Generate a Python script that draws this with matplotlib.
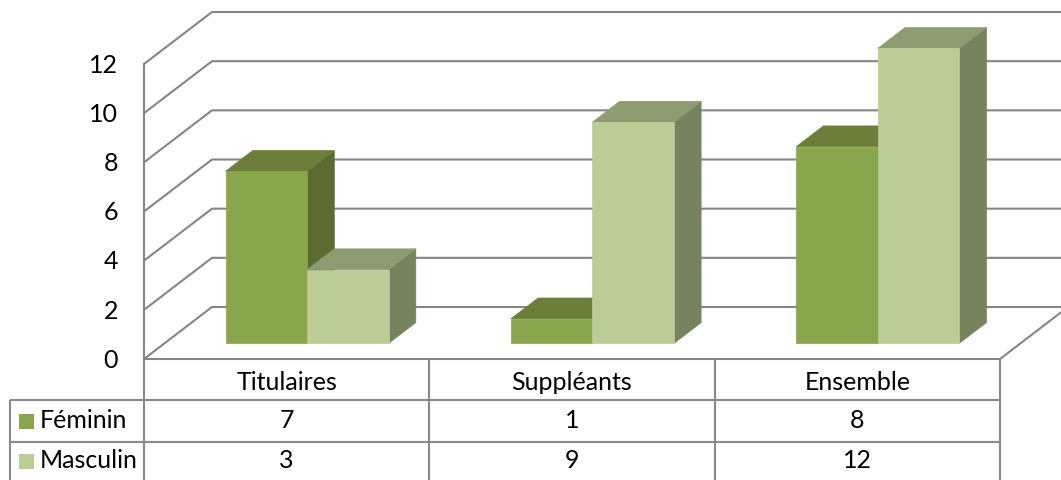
import matplotlib
matplotlib.use("Agg")
import matplotlib.pyplot as plt
from matplotlib.patches import Polygon, Rectangle

# ---- data ----
categories = ["Titulaires", "Suppléants", "Ensemble"]
series_names = ["Féminin", "Masculin"]
feminin = [7, 1, 8]
masculin = [3, 9, 12]
y_ticks = [0, 2, 4, 6, 8, 10, 12]

# ---- styling ----
FONT = "Lato"
FS = 18
GRID = "#858585"
TABLE = "#8a8a8a"
faces = {
    "Féminin": {"front": "#89a54e", "top": "#6c7e3a", "side": "#5b6b31"},
    "Masculin": {"front": "#bccc97", "top": "#8e9b71", "side": "#76835e"},
}

W, H = 1061, 480
fig = plt.figure(figsize=(W / 100, H / 100), dpi=100)
ax = fig.add_axes([0, 0, 1, 1])

# layout in pixels (top-left origin) for the front plane of the plot
PX_LEFT, PX_RIGHT = 144, 1000
PX_BASE, PX_TOP = 359, 64
PX_DEPTH_X, PX_DEPTH_Y = 68, 52
n_cat = len(categories)
ymax = y_ticks[-1]
cw = (PX_RIGHT - PX_LEFT) / n_cat          # px per category
vh = (PX_BASE - PX_TOP) / ymax             # px per value unit
DX = PX_DEPTH_X / cw                       # depth offset in data units
DY = PX_DEPTH_Y / vh

ax.set_xlim(-PX_LEFT / cw, (W - PX_LEFT) / cw)
ax.set_ylim(-(H - PX_BASE) / vh, PX_BASE / vh)
ax.axis("off")


def py(pix):
    """vertical pixel position (from top) -> data units"""
    return (PX_BASE - pix) / vh


def px(pix):
    return (pix - PX_LEFT) / cw


# ---- walls and gridlines ----
x_end = ax.get_xlim()[1]
for v in y_ticks:
    ax.plot([0, DX, x_end], [v, v + DY, v + DY], color=GRID, lw=1.5,
            solid_capstyle="butt", zorder=1)
ax.plot([0, 0], [0, ymax], color=GRID, lw=1.5, zorder=1)
ax.plot([0, n_cat], [0, 0], color=GRID, lw=1.5, zorder=1)
ax.plot([n_cat, n_cat + DX], [0, DY], color=GRID, lw=1.5, zorder=1)

for v in y_ticks:
    ax.text(px(118), v - 0.05, str(v), ha="right", va="center", fontsize=FS,
            family=FONT, color="#000000")

# ---- 3D bars ----
gap = 1.5
bw = 1.0 / (len(series_names) + gap)
d0, d1 = 0.30, 0.70
values = {"Féminin": feminin, "Masculin": masculin}


def draw_bar(x0, h, col, z):
    x1 = x0 + bw
    ox0, oy0 = d0 * DX, d0 * DY
    ox1, oy1 = d1 * DX, d1 * DY
    side = [(x1 + ox0, oy0), (x1 + ox1, oy1), (x1 + ox1, h + oy1), (x1 + ox0, h + oy0)]
    top = [(x0 + ox0, h + oy0), (x1 + ox0, h + oy0), (x1 + ox1, h + oy1), (x0 + ox1, h + oy1)]
    front = [(x0 + ox0, oy0), (x1 + ox0, oy0), (x1 + ox0, h + oy0), (x0 + ox0, h + oy0)]
    ax.add_patch(Polygon(side, closed=True, fc=col["side"], ec=col["side"], lw=0.5, zorder=z))
    ax.add_patch(Polygon(top, closed=True, fc=col["top"], ec=col["top"], lw=0.5, zorder=z))
    ax.add_patch(Polygon(front, closed=True, fc=col["front"], ec=col["front"], lw=0.5, zorder=z))


z = 3
for i in range(n_cat):
    for j, s in enumerate(series_names):
        x0 = i + gap * bw / 2 + j * bw
        draw_bar(x0, values[s][i], faces[s], z)
        z += 1

# ---- data table ----
row_edges = [PX_BASE, 400, 442, H]
legend_left = 10
tkw = dict(color=TABLE, lw=1.5, zorder=2, solid_capstyle="butt")
for c in range(n_cat + 1):
    ax.plot([c, c], [py(row_edges[0]), py(row_edges[-1])], **tkw)
for r in row_edges[1:3]:
    ax.plot([px(legend_left), n_cat], [py(r), py(r)], **tkw)
ax.plot([px(legend_left)] * 2, [py(row_edges[1]), py(row_edges[-1])], **tkw)

for i, cat in enumerate(categories):
    ax.text(i + 0.5, py((row_edges[0] + row_edges[1]) / 2 + 3), cat, ha="center",
            va="center", fontsize=FS, family=FONT)

for r, s in enumerate(series_names):
    yc = (row_edges[r + 1] + row_edges[r + 2]) / 2
    key = 15
    ax.add_patch(Rectangle((px(19), py(yc + key / 2)), key / cw, key / vh,
                           fc=faces[s]["front"], ec="none", zorder=3))
    ax.text(px(40), py(yc), s, ha="left", va="center", fontsize=FS, family=FONT)
    for i in range(n_cat):
        ax.text(i + 0.5, py(yc), str(values[s][i]), ha="center", va="center",
                fontsize=FS, family=FONT)

fig.savefig("out.png", dpi=100)
